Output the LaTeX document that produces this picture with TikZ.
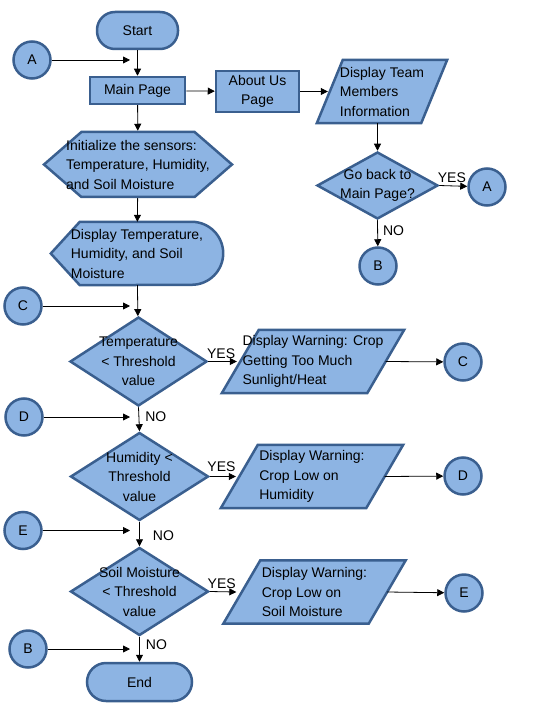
\documentclass[tikz,border=0pt]{standalone}
\usepackage{fontspec}
\setmainfont{Liberation Sans}
\usetikzlibrary{shapes.geometric,shapes.symbols,arrows.meta,backgrounds}
\definecolor{boxfill}{HTML}{8DB4E3}
\definecolor{boxline}{HTML}{3A5F8F}
\begin{document}
\begin{tikzpicture}[x=1pt,y=-1pt,
		font=\fontsize{14}{19.5}\selectfont,
		shapeline/.style={fill=boxfill,draw=boxline,line width=2.5pt},
		terminal/.style={shapeline,rectangle,rounded corners=18pt,minimum height=37pt,inner sep=0pt},
		process/.style={shapeline,rectangle,inner sep=0pt},
		connector/.style={shapeline,circle,minimum size=37pt,inner sep=0pt},
		decision/.style={shapeline,diamond,inner sep=-20pt,align=center},
		iobox/.style={rectangle,inner sep=0pt,align=left,minimum height=63pt},
		prep/.style={shapeline,signal,signal to=west and east,signal pointer angle=82,inner sep=-20pt,align=left},
		flow/.style={-{Triangle[length=7pt,width=7pt]},line width=0.8pt},
		lbl/.style={inner sep=0pt}]
		\useasboundingbox (0,0) rectangle (545,708);
		% main column
		\node[terminal,minimum width=81pt] (start) at (137.5,30.5) {Start};
		\node[process,minimum width=95pt,minimum height=27pt] (mainpage) at (137.5,90.5) {Main Page};
		\node[process,minimum width=83pt,minimum height=41pt,align=center] (aboutus) at (257.5,91.5) {About Us\\Page};
		\node[iobox,minimum width=130pt] (team) at (382,91.5) {Display Team\\Members\\Information};
		\node[decision,minimum width=121pt,minimum height=67pt] (goback) at (377.5,185.5) {Go back to\\Main Page?};
		\node[connector] (a2) at (487,187) {A};
		\node[connector] (b1) at (378,266) {B};
		\node[prep,minimum width=188pt,minimum height=65pt] (init) at (138,164.5) {Initialize the sensors:\\Temperature, Humidity,\\and Soil Moisture};
		\node[rectangle,inner sep=0pt,minimum width=172pt,minimum height=63pt,align=left] (display) at (137,253.5) {Display Temperature,\\Humidity, and Soil\\Moisture};
		% checks
		\node[decision,minimum width=137pt,minimum height=89pt] (temp) at (138.5,361.5) {Temperature\\< Threshold\\value};
		\node[decision,minimum width=138pt,minimum height=88pt] (humid) at (139.5,476.5) {Humidity <\\Threshold\\value};
		\node[decision,minimum width=138pt,minimum height=88pt] (soil) at (139.5,591.5) {Soil Moisture\\< Threshold\\value};
		\node[iobox,minimum width=182pt] (warn1) at (313,361.5) {Display Warning: Crop\\Getting Too Much\\Sunlight/Heat};
		\node[iobox,minimum width=182pt] (warn2) at (312,476.5) {Display Warning:\\Crop Low on\\Humidity};
		\node[iobox,minimum width=182pt] (warn3) at (314.5,592) {Display Warning:\\Crop Low on\\Soil Moisture};
		\node[connector] (c2) at (463,362) {C};
		\node[connector] (d2) at (463,476) {D};
		\node[connector] (e2) at (464,593) {E};
		\node[terminal,minimum width=105pt,minimum height=38pt,rounded corners=19pt] (end) at (139.5,682) {End};
		% outlines behind the text
		\begin{scope}[on background layer]
		\draw[shapeline] (display.west) -- ([xshift=29pt]display.north west) -- ([xshift=-31.5pt]display.north east)
			arc[start angle=90,end angle=-90,radius=31.5pt] -- ([xshift=29pt]display.south west) -- cycle;
		\draw[shapeline] ([xshift=26pt]team.north west) -- (team.north east) -- ([xshift=-26pt]team.south east) -- (team.south west) -- cycle;
		\draw[shapeline] ([xshift=37pt]warn1.north west) -- (warn1.north east) -- ([xshift=-37pt]warn1.south east) -- (warn1.south west) -- cycle;
		\draw[shapeline] ([xshift=37pt]warn2.north west) -- (warn2.north east) -- ([xshift=-37pt]warn2.south east) -- (warn2.south west) -- cycle;
		\draw[shapeline] ([xshift=37pt]warn3.north west) -- (warn3.north east) -- ([xshift=-37pt]warn3.south east) -- (warn3.south west) -- cycle;
		\end{scope}
		% connectors on the left
		\node[connector] (a1) at (32,60) {A};
		\node[connector] (c1) at (23,306) {C};
		\node[connector] (d1) at (24,417) {D};
		\node[connector] (e1) at (23,530.5) {E};
		\node[connector] (b2) at (28,649) {B};
		\coordinate (toa) at (130,60);
		\coordinate (toc) at (130,306);
		\coordinate (tod) at (130,417);
		\coordinate (toe) at (130,530.5);
		\coordinate (tob) at (130,649);
		% arrows
		\draw[flow] (start) -- (mainpage);
		\draw[flow] (mainpage) -- (aboutus);
		\draw[flow] (aboutus) -- ([xshift=11pt]team.west);
		\draw[flow] (team.south -| goback.north) -- (goback);
		\draw[flow] (goback.east) -- (a2) node[lbl,pos=.45,above=3pt] {YES};
		\draw[flow] (goback.south) -- (b1) node[lbl,pos=.4,right=5pt] {NO};
		\draw[flow] (mainpage) -- (init);
		\draw[flow] (init) -- (display);
		\draw[flow] (display) -- (temp);
		\draw[flow] (temp.south) -- (humid.north) node[lbl,pos=.4,right=6pt] {NO};
		\draw[flow] (humid.south) -- (soil.north) node[lbl,pos=.55,right=13pt] {NO};
		\draw[flow] (soil.south) -- (end) node[lbl,pos=.3,right=6pt] {NO};
		\draw[flow] (temp.east) -- ([xshift=15pt]warn1.west) node[lbl,pos=.45,above=2pt] {YES};
		\draw[flow] (humid.east) -- ([xshift=15pt]warn2.west) node[lbl,pos=.45,above=4pt] {YES};
		\draw[flow] (soil.east) -- ([xshift=13pt]warn3.west) node[lbl,pos=.45,above=3pt] {YES};
		\draw[flow] ([xshift=-18.5pt]warn1.east) -- (c2);
		\draw[flow] ([xshift=-18.5pt]warn2.east) -- (d2);
		\draw[flow] ([xshift=-18.5pt]warn3.east) -- (e2);
		\draw[flow] (a1) -- (toa);
		\draw[flow] (c1) -- (toc);
		\draw[flow] (d1) -- (tod);
		\draw[flow] (e1) -- (toe);
		\draw[flow] (b2) -- (tob);
		
		\end{tikzpicture}
\end{document}
